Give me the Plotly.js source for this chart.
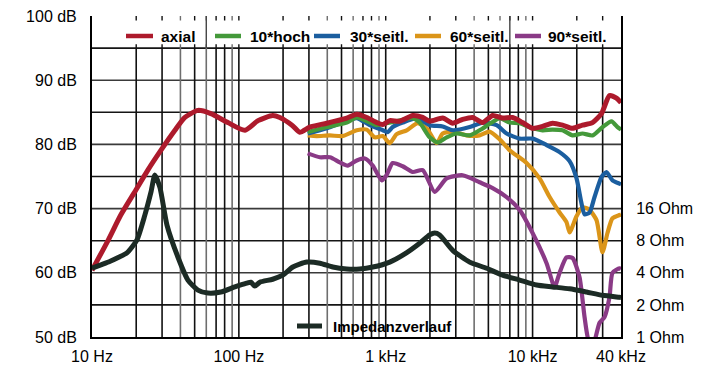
<!DOCTYPE html>
<html>
<head>
<meta charset="utf-8">
<script src="https://cdn.plot.ly/plotly-3.0.1.min.js"></script>
<style>
  html, body { margin: 0; padding: 0; background: #ffffff; }
  #chart { width: 712px; height: 368px; }
</style>
</head>
<body>
<div id="chart"></div>
<script>
// ---------- data ----------
const seriesNames = ["axial", "10*hoch", "30*seitl.", "60*seitl.", "90*seitl."];
const impedanceName = "Impedanzverlauf";

const axialFreq = [10, 12.9, 15.7, 19.9, 24, 29.5, 36.7, 42.9, 52.6, 64.5, 84.2, 110, 135, 170, 190, 230, 260, 304, 397, 543, 635, 743, 869, 955, 1065, 1245, 1527, 1786, 1992, 2443, 2857, 3342, 3908, 4570, 5345, 6251, 7311, 8551, 10000, 11695, 13677, 15996, 18707, 21878, 25587, 29450, 33400, 37260, 40000];
const axialDb = [60.4, 65.1, 69.0, 72.9, 76.0, 79.1, 82.2, 84.2, 85.3, 84.8, 83.4, 82.2, 83.7, 84.5, 84.2, 83.0, 81.9, 82.7, 83.3, 84.1, 84.7, 84.2, 83.4, 83.1, 83.7, 83.6, 84.5, 84.2, 83.6, 84.1, 83.3, 83.9, 84.2, 83.4, 84.5, 84.1, 84.2, 83.4, 82.5, 82.8, 83.3, 83.0, 82.5, 83.0, 83.4, 84.8, 87.6, 87.2, 86.5];

const hoch10Freq = [294, 397, 543, 635, 869, 1016, 1188, 1527, 1703, 1992, 2258, 2600, 3041, 3727, 4357, 5261, 5965, 6977, 8160, 10000, 11695, 13677, 15996, 18707, 21878, 25587, 29930, 34450, 37880, 40000];
const hoch10Db = [81.9, 82.7, 83.4, 84.2, 83.0, 83.3, 83.6, 84.1, 83.4, 81.1, 80.3, 81.1, 81.7, 81.4, 82.2, 83.4, 84.1, 83.4, 83.3, 82.5, 82.2, 82.3, 82.2, 81.4, 81.7, 81.4, 82.7, 83.6, 82.7, 82.3];

const seitl30Freq = [294, 397, 543, 635, 778, 955, 1032, 1116, 1305, 1626, 1992, 2443, 2857, 3727, 4570, 5690, 6655, 8160, 10000, 12450, 15270, 17860, 19920, 21540, 22590, 24430, 26420, 29450, 31870, 35000, 39000, 40000];
const seitl30Db = [81.7, 82.5, 83.7, 84.1, 83.0, 82.2, 81.9, 82.7, 83.4, 84.1, 83.0, 82.8, 82.2, 82.7, 83.4, 83.0, 81.7, 80.9, 80.9, 79.9, 78.8, 77.4, 74.7, 70.8, 69.1, 69.4, 71.8, 74.9, 75.7, 74.4, 73.9, 73.8];

const seitl60Freq = [294, 339, 416, 510, 635, 743, 842, 955, 1065, 1188, 1389, 1651, 1901, 2222, 2443, 2857, 3557, 4357, 5096, 5965, 6977, 9100, 11160, 13060, 15270, 17020, 17860, 19920, 21878, 24430, 27250, 29930, 32360, 35000, 39000, 40000];
const seitl60Db = [81.4, 81.3, 81.4, 81.3, 82.2, 82.3, 81.1, 81.3, 80.2, 81.6, 82.2, 83.3, 82.5, 80.2, 81.7, 82.0, 81.4, 81.4, 82.0, 80.8, 79.1, 77.1, 74.7, 71.8, 69.4, 67.9, 66.3, 68.8, 70.2, 69.8, 68.2, 63.2, 66.2, 68.5, 69.0, 69.1];

const seitl90Freq = [294, 356, 417, 487, 551, 635, 720, 816, 939, 1013, 1116, 1305, 1527, 1786, 2154, 2600, 3342, 4357, 5345, 6655, 8160, 10000, 12450, 14120, 15270, 17020, 18707, 20880, 22590, 24040, 25800, 28560, 30900, 33400, 35000, 39000, 40000];
const seitl90Db = [78.6, 78.0, 78.0, 77.2, 76.7, 77.5, 77.8, 76.7, 74.4, 75.2, 77.1, 76.6, 75.7, 76.0, 72.6, 74.7, 75.2, 74.1, 73.2, 71.8, 69.8, 66.2, 61.5, 57.8, 60.0, 62.4, 62.3, 59.3, 53.1, 49.5, 48.8, 52.2, 53.1, 56.2, 60.0, 60.7, 60.6];

const impFreq = [10, 11.5, 13.3, 15.2, 17.3, 20.2, 22.9, 25.2, 26.8, 29.0, 32.4, 38.5, 45, 52.6, 61.5, 75.4, 93.9, 113, 120.7, 128.5, 139, 170, 199, 233, 290, 356, 436, 543, 665, 816, 1065, 1383, 1703, 1992, 2154, 2330, 2857, 3727, 4865, 6251, 8160, 10640, 13677, 17860, 23300, 29930, 39000, 40000];
const impOhm = [4.41, 4.75, 5.14, 5.6, 6.15, 8.1, 13.9, 22.8, 33, 25.3, 11.2, 5.6, 3.42, 2.75, 2.58, 2.64, 2.95, 3.2, 3.27, 3.0, 3.27, 3.48, 3.8, 4.53, 5.04, 4.92, 4.53, 4.35, 4.35, 4.53, 5.04, 6.15, 7.57, 9.06, 9.45, 9.06, 6.5, 5.04, 4.41, 3.8, 3.42, 3.07, 2.95, 2.83, 2.64, 2.46, 2.36, 2.35];

const xTickVals = [10, 100, 1000, 10000, 40000];
const xTickText = ["10 Hz", "100 Hz", "1 kHz", "10 kHz", "40 kHz"];
const yTickVals = [50, 60, 70, 80, 90, 100];
const yTickText = ["50 dB", "60 dB", "70 dB", "80 dB", "90 dB", "100 dB"];
const ohmTickVals = [1, 2, 4, 8, 16];
const ohmTickText = ["1 Ohm", "2 Ohm", "4 Ohm", "8 Ohm", "16 Ohm"];

// ---------- styles ----------
const colors = ["#ad1a2c", "#44993a", "#1b5e9f", "#db9519", "#8a3a86"];
const impColor = "#1c2b25";
const widths = [5, 4.2, 4.2, 4.2, 4.2];
const FONT = "Liberation Sans, Arial, Helvetica, sans-serif";

const xs = [axialFreq, hoch10Freq, seitl30Freq, seitl60Freq, seitl90Freq];
const ys = [axialDb, hoch10Db, seitl30Db, seitl60Db, seitl90Db];

const traces = [];
traces.push({
  x: impFreq, y: impOhm, yaxis: "y2", type: "scatter", mode: "lines",
  name: impedanceName, showlegend: false,
  line: {color: impColor, width: 5, shape: "spline", smoothing: 0.6}
});
for (let i = 4; i >= 0; i--) {
  traces.push({
    x: xs[i], y: ys[i], type: "scatter", mode: "lines", name: seriesNames[i],
    showlegend: false,
    line: {color: colors[i], width: widths[i], shape: "spline", smoothing: 0.6}
  });
}

// ---------- grid (drawn as shapes so the legend strip stays clear) ----------
const shapes = [];
const darkGrid = "#111111", lightGrid = "#6e6e6e";
for (let k = 1; k <= 4; k++) {
  for (let m = 1; m <= 9; m++) {
    const f = m * Math.pow(10, k);
    if (f <= 10 || f >= 40000) continue;
    const c = (m === 4 || m === 6 || m === 9) ? lightGrid : darkGrid;
    shapes.push({type: "line", xref: "x", yref: "y", x0: f, x1: f, y0: 50, y1: 95,
      line: {color: c, width: 1.6}, layer: "below"});
    shapes.push({type: "line", xref: "x", yref: "y", x0: f, x1: f, y0: 95, y1: 95.6,
      line: {color: c, width: 1.4}, layer: "below"});
    shapes.push({type: "line", xref: "x", yref: "y", x0: f, x1: f, y0: 99.3, y1: 100,
      line: {color: c, width: 1.4}, layer: "below"});
  }
}
[60, 7000].forEach(f => shapes.push({type: "line", xref: "x", yref: "y", x0: f, x1: f, y0: 95, y1: 100,
  line: {color: "#444", width: 1.4}, layer: "below"}));
for (let v = 55; v <= 95; v += 5) {
  shapes.push({type: "line", xref: "paper", yref: "y", x0: 0, x1: 1, y0: v, y1: v,
    line: {color: (v % 10 === 0) ? "#3a3a3a" : "#151515", width: 1.6}, layer: "below"});
}

// ---------- legend drawn by hand ----------
const W = 529, H = 321, L = 92, T = 16;
const px = x => (x - L) / W;
const py = y => 1 - (y - T) / H;
const legendLine = [[126, 153], [215, 241], [314, 340], [415, 441], [515, 541]];
const legendText = [159, 248, 348, 448, 546];
const annotations = [];
for (let i = 0; i < 5; i++) {
  shapes.push({type: "line", xref: "paper", yref: "paper",
    x0: px(legendLine[i][0]), x1: px(legendLine[i][1]), y0: py(36), y1: py(36),
    line: {color: colors[i], width: 4.5}, layer: "above"});
  annotations.push({xref: "paper", yref: "paper", x: px(legendText[i]), y: py(36),
    xanchor: "left", yanchor: "middle", showarrow: false, text: seriesNames[i],
    font: {family: FONT, size: 15.5, color: "#000", weight: "bold"}});
}
shapes.push({type: "line", xref: "paper", yref: "paper",
  x0: px(297), x1: px(322), y0: py(326), y1: py(326),
  line: {color: impColor, width: 5}, layer: "above"});
annotations.push({xref: "paper", yref: "paper", x: px(331), y: py(326),
  xanchor: "left", yanchor: "middle", showarrow: false, text: impedanceName,
  font: {family: FONT, size: 15, color: "#000", weight: "bold"}});

const layout = {
  width: 712, height: 368,
  margin: {l: 92, r: 91, t: 16, b: 31, pad: 0},
  paper_bgcolor: "#ffffff", plot_bgcolor: "#ffffff",
  showlegend: false,
  font: {family: FONT, size: 16, color: "#000"},
  xaxis: {
    type: "log", range: [1, Math.log10(40000)],
    tickvals: xTickVals, ticktext: xTickText, ticks: "",
    showgrid: false, zeroline: false,
    showline: true, linecolor: "#000", linewidth: 2,
    tickfont: {family: FONT, size: 16, color: "#000"}, ticklabelstandoff: 4
  },
  yaxis: {
    range: [50, 100], tickvals: yTickVals, ticktext: yTickText, ticks: "",
    showgrid: false, zeroline: false,
    showline: true, linecolor: "#000", linewidth: 2,
    tickfont: {family: FONT, size: 16, color: "#000"}, ticklabelstandoff: 10
  },
  yaxis2: {
    type: "log", overlaying: "y", side: "right",
    range: [0, Math.log10(1024)], tickvals: ohmTickVals, ticktext: ohmTickText, ticks: "",
    showgrid: false, zeroline: false,
    showline: true, linecolor: "#000", linewidth: 2,
    tickfont: {family: FONT, size: 16, color: "#000"}, ticklabelstandoff: 10
  },
  shapes: shapes,
  annotations: annotations
};

Plotly.newPlot("chart", traces, layout, {staticPlot: true, displayModeBar: false});
</script>
</body>
</html>
